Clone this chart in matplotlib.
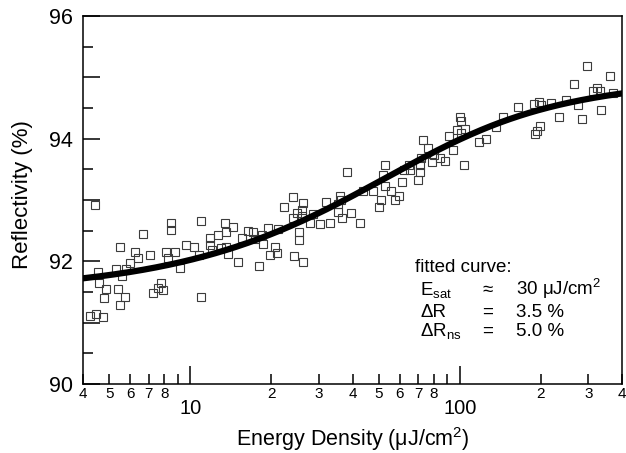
import matplotlib
matplotlib.use("Agg")
import matplotlib.pyplot as plt
from matplotlib.ticker import FixedLocator, FixedFormatter
import numpy as np

plt.rcParams['font.family'] = ['Liberation Sans', 'DejaVu Sans']
plt.rcParams['mathtext.fontset'] = 'custom'
plt.rcParams['mathtext.rm'] = 'Liberation Sans'
plt.rcParams['mathtext.it'] = 'Liberation Sans:italic'

# measured reflectivity vs. pulse energy density (uJ/cm^2, %)
energy = [4.42, 8.50, 8.50, 6.68, 11.0, 5.50, 6.22, 6.40, 7.07, 8.15, 8.30, 8.76,
          9.67, 10.3, 10.8, 5.96, 5.32, 5.79, 4.55, 5.60, 9.14, 4.60, 4.88, 5.40,
          4.80, 5.71, 5.47, 7.81, 7.60, 7.95, 7.27, 4.23, 4.48, 4.76, 11.0,
          24.1, 22.3, 26.3, 24.8, 24.1, 25.4, 25.4, 13.4, 14.4, 13.6, 12.7, 11.8,
          11.8, 12.0, 13.0, 13.6, 13.8, 15.1, 18.0, 16.4, 17.1, 15.6, 17.4, 18.4,
          18.6, 19.5, 21.2, 20.6, 19.8, 21.0, 24.3, 26.3,
          52.8, 38.1, 51.8, 61.9, 61.0, 52.8, 55.6, 50.9, 50.2, 57.7, 59.7, 43.9,
          47.6, 35.9, 36.3, 35.3, 31.8, 25.9, 28.6, 25.9, 27.9, 30.3, 33.0, 35.3,
          36.5, 39.5, 42.8,
          100, 101.4, 97.5, 105, 91.2, 101, 145, 136, 118, 125.5, 94.8, 73.2,
          76.1, 71.6, 80, 84.5, 88.5, 78.7, 71.0, 71.0, 64.9, 65.5, 70.0, 104,
          296, 361, 265, 322, 313, 332, 370, 275, 247, 334, 285, 234, 218, 197,
          188, 200, 164, 198, 193, 190]
reflectivity = [92.92, 92.62, 92.51, 92.45, 92.66, 92.24, 92.15, 92.06, 92.10, 92.16,
                92.05, 92.16, 92.27, 92.23, 92.10, 91.97, 91.88, 91.88, 91.83, 91.76,
                91.89, 91.64, 91.55, 91.55, 91.41, 91.42, 91.29, 91.64, 91.56, 91.54,
                91.48, 91.11, 91.14, 91.10, 91.42,
                93.05, 92.89, 92.95, 92.78, 92.70, 92.48, 92.35, 92.63, 92.56, 92.48,
                92.43, 92.38, 92.27, 92.18, 92.21, 92.23, 92.12, 91.99, 91.92, 92.50,
                92.48, 92.38, 92.36, 92.43, 92.29, 92.55, 92.53, 92.23, 92.11, 92.13,
                92.08, 91.99,
                93.57, 93.46, 93.41, 93.49, 93.30, 93.23, 93.14, 93.00, 92.88, 93.00,
                93.07, 93.14, 93.14, 93.07, 93.00, 92.93, 92.96, 92.84, 92.77, 92.74,
                92.62, 92.61, 92.62, 92.81, 92.70, 92.78, 92.62,
                94.36, 94.29, 94.14, 94.15, 94.04, 94.10, 94.36, 94.19, 93.95, 93.99,
                93.82, 93.98, 93.84, 93.68, 93.73, 93.68, 93.64, 93.62, 93.57, 93.46,
                93.57, 93.49, 93.33, 93.57,
                95.18, 95.02, 94.89, 94.82, 94.78, 94.77, 94.74, 94.55, 94.63, 94.46,
                94.32, 94.35, 94.58, 94.60, 94.57, 94.55, 94.52, 94.21, 94.13, 94.07]

# fit parameters
E_sat = 30.0      # uJ/cm^2
dR = 3.5          # %
dR_ns = 5.0       # %

# saturable absorber model
E_fit = np.logspace(np.log10(4), np.log10(400), 400)
x = E_fit / E_sat
R_fit = 100 - dR_ns - dR * (1 - np.exp(-x)) / x

minor_x = [4, 5, 6, 7, 8, 9, 20, 30, 40, 50, 60, 70, 80, 90, 200, 300, 400]
minor_x_labels = ['4', '5', '6', '7', '8', '', '2', '3', '4', '5', '6', '7', '8', '',
                  '2', '3', '4']
major_x = [10, 100]
major_x_labels = ['10', '100']
y_ticks = [90, 91, 92, 93, 94, 95, 96]
y_labels = ['90', '', '92', '', '94', '', '96']

fig = plt.figure(figsize=(6.26, 4.53), dpi=100)
ax = fig.add_axes([0.1326, 0.1523, 0.861, 0.8124])

ax.plot(energy, reflectivity, linestyle='none', marker='s', markersize=6.2,
        markerfacecolor='none', markeredgecolor='#3c3c3c', markeredgewidth=0.8,
        zorder=2)
ax.plot(E_fit, R_fit, color='black', linewidth=4.5, zorder=3)

ax.set_xscale('log')
ax.set_xlim(4, 400)
ax.set_ylim(90, 96)

ax.xaxis.set_major_locator(FixedLocator(major_x))
ax.xaxis.set_major_formatter(FixedFormatter(major_x_labels))
ax.xaxis.set_minor_locator(FixedLocator(minor_x))
ax.xaxis.set_minor_formatter(FixedFormatter(minor_x_labels))
ax.yaxis.set_major_locator(FixedLocator(y_ticks))
ax.yaxis.set_major_formatter(FixedFormatter(y_labels))
ax.yaxis.set_minor_locator(FixedLocator(np.arange(90.5, 96, 1.0)))

ax.tick_params(which='both', direction='in', top=False, right=False, width=1.1)
ax.tick_params(axis='x', which='major', length=13, labelsize=14.5, pad=11)
ax.tick_params(axis='x', which='minor', length=7, labelsize=11, pad=2)
ax.tick_params(axis='y', which='major', length=12, labelsize=15.5, pad=7)
ax.tick_params(axis='y', which='minor', length=7)

for s in ax.spines.values():
    s.set_linewidth(1.1)

ax.set_xlabel('Energy Density (μJ/cm$^2$)', fontsize=15.5, va='top')
ax.xaxis.set_label_coords(0.501, -0.113)
ax.set_ylabel('Reflectivity (%)', fontsize=16)
ax.yaxis.set_label_coords(-0.093, 0.516)

# fit annotation
fs = 13.5
ax.text(0.616, 0.304, 'fitted curve:', transform=ax.transAxes, fontsize=fs, va='baseline')
rows = [('E$_{\\rm sat}$', '≈', '30 μJ/cm$^2$', 0.242),
        ('ΔR', '=', '3.5 %', 0.182),
        ('ΔR$_{\\rm ns}$', '=', '5.0 %', 0.130)]
for name, sign, val, yy in rows:
    ax.text(0.626, yy, name, transform=ax.transAxes, fontsize=fs, va='baseline')
    ax.text(0.751, yy, sign, transform=ax.transAxes, fontsize=fs, va='baseline', ha='center')
    ax.text(0.803, yy, val, transform=ax.transAxes, fontsize=fs, va='baseline')

fig.savefig('out.png', dpi=100)
